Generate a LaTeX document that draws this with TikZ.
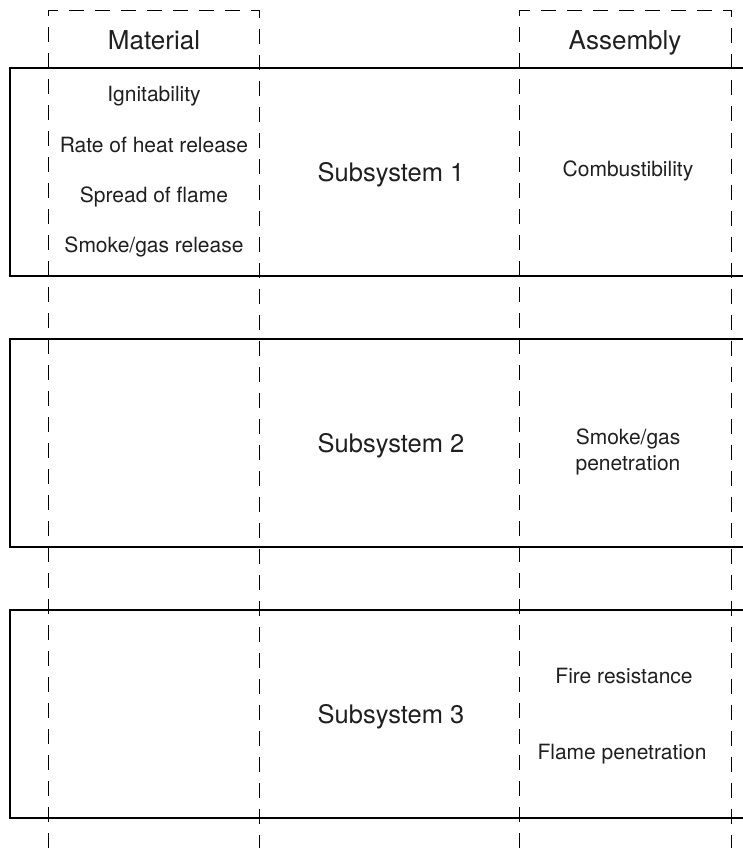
\documentclass[tikz,border=0pt]{standalone}
\usepackage{fontspec}
\setmainfont{TeX Gyre Heros}
\tikzset{
  column/.style={line width=1pt, dash pattern=on 15pt off 11pt},
  subsys/.style={line width=2pt},
  head/.style={font=\fontsize{26}{31}\selectfont, anchor=base, text=black!88},
  big/.style={font=\fontsize{25.5}{30}\selectfont, anchor=base, text=black!88},
  item/.style={font=\fontsize{21}{25.7}\selectfont, align=center, text=black!88},
}
\begin{document}
\begin{tikzpicture}[x=1pt,y=-1pt]
    \useasboundingbox (0,0) rectangle (743,848);
    \clip (0,0) rectangle (743,848);

    % the two columns
    \draw[column] (48,848) -- (48,11) -- (259,11) -- (259,848);
    \draw[column] (519.5,848) -- (519.5,11) -- (731,11) -- (731,848);
    \node[head] (material) at (154,50) {Material};
    \node[head] (assembly) at (625,50) {Assembly};

    % the three subsystems
    \draw[subsys] (760,68) -- (10,68) -- (10,276) -- (760,276);
    \draw[subsys] (760,339) -- (10,339) -- (10,547) -- (760,547);
    \draw[subsys] (760,610) -- (10,610) -- (10,818) -- (760,818);

    \node[big] (sub1) at (391,181.7) {Subsystem 1};
    \node[big] (sub2) at (391,452.7) {Subsystem 2};
    \node[big] (sub3) at (391,723.7) {Subsystem 3};

    % material tests
    \node[item, anchor=base] (ign) at (154,102) {Ignitability};
    \node[item, anchor=base] (heat) at (154,152) {Rate of heat release};
    \node[item, anchor=base] (flame) at (154,202) {Spread of flame};
    \node[item, anchor=base] (smoke) at (154,252) {Smoke/gas release};

    % assembly tests
    \node[item, anchor=base] (comb) at (628,176) {Combustibility};
    \node[item] (smokepen) at (628,452) {Smoke/gas\\penetration};
    \node[item, anchor=base] (fire) at (624,683) {Fire resistance};
    \node[item, anchor=base] (flamepen) at (622,759) {Flame penetration};
\end{tikzpicture}
\end{document}
